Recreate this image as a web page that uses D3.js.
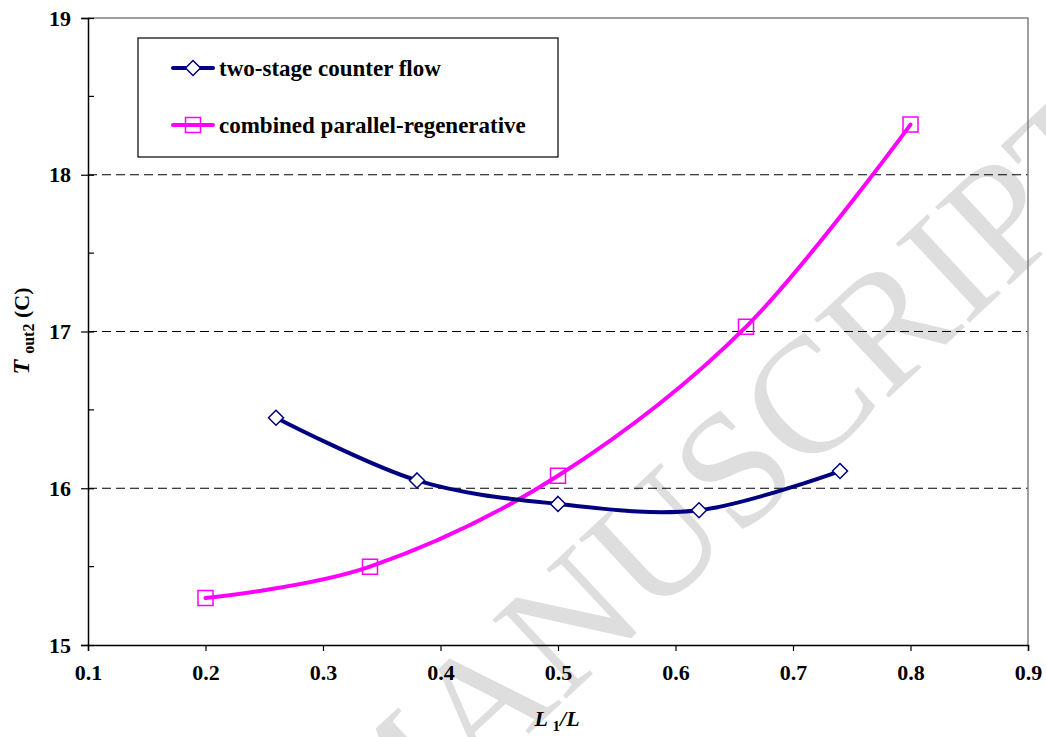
<!DOCTYPE html>
<html>
<meta charset="utf-8" />
<style>
	html, body, svg { margin: 0; padding: 0; background: #fff; }
</style>
<svg width="1046" height="737"></svg>
<script src="https://d3js.org/d3.v7.min.js"></script>
<script>
	var xTicks = [0.1, 0.2, 0.3, 0.4, 0.5, 0.6, 0.7, 0.8, 0.9];
	var yTicks = [15, 16, 17, 18, 19];
	var yMinor = [15.5, 16.5, 17.5, 18.5];

	var counterX = [0.26, 0.38, 0.5, 0.62, 0.74];
	var counterY = [16.45, 16.05, 15.9, 15.86, 16.11];
	var combinedX = [0.2, 0.34, 0.5, 0.66, 0.8];
	var combinedY = [15.3, 15.5, 16.08, 17.03, 18.32];

	var seriesNames = ["two-stage counter flow", "combined parallel-regenerative"];

	var FONT = "Liberation Serif";
	var svg = d3.select("svg");
	var margin = { left: 88, top: 18, right: 18, bottom: 92 };
	var W = 1046, H = 737;

	var x = d3.scaleLinear().domain([0.1, 0.9]).range([margin.left, W - margin.right]);
	var y = d3.scaleLinear().domain([15, 19]).range([H - margin.bottom, margin.top]);

	function txt(sel, size, weight, style) {
		return sel.attr("font-family", FONT).attr("font-size", size)
			.attr("font-weight", weight || "bold").attr("font-style", style || "normal");
	}

	// watermark behind everything
	txt(svg.append("text"), 165, "normal")
		.attr("transform", "translate(1146,158) rotate(-43)")
		.attr("text-anchor", "end")
		.attr("fill", "#dedede")
		.text("ACCEPTED MANUSCRIPT");

	// gridlines
	svg.append("g").selectAll("line")
		.data(yTicks.filter(function (d) { return d > 15 && d < 19; }))
		.enter().append("line")
		.attr("x1", x(0.1)).attr("x2", x(0.9))
		.attr("y1", function (d) { return y(d); })
		.attr("y2", function (d) { return y(d); })
		.attr("stroke", "#000")
		.attr("stroke-dasharray", "9,5");

	// top/right frame
	svg.append("path")
		.attr("d", "M" + x(0.1) + "," + y(19) + "H" + x(0.9) + "V" + y(15))
		.attr("fill", "none")
		.attr("stroke", "#808080")
		.attr("stroke-width", 1.5);

	// axes
	var xAxis = svg.append("g")
		.attr("transform", "translate(0," + y(15) + ")")
		.call(d3.axisBottom(x).tickValues(xTicks).tickSize(6).tickPadding(13).tickFormat(d3.format(".1f")));
	var yAxis = svg.append("g")
		.attr("transform", "translate(" + x(0.1) + ",0)")
		.call(d3.axisLeft(y).tickValues(yTicks).tickSize(7).tickPadding(10).tickFormat(d3.format("d")));
	[xAxis, yAxis].forEach(function (a) {
		a.select(".domain").attr("stroke", "#000").attr("stroke-width", 1.5);
		a.selectAll(".tick line").attr("stroke", "#000").attr("stroke-width", 1.2);
		txt(a.selectAll(".tick text"), 22).attr("fill", "#000");
	});
	// major y ticks cross the axis
	yAxis.selectAll(".tick line").attr("x1", 6);
	// minor y ticks inside
	svg.append("g").selectAll("line")
		.data(yMinor).enter().append("line")
		.attr("x1", x(0.1)).attr("x2", x(0.1) + 6)
		.attr("y1", function (d) { return y(d); })
		.attr("y2", function (d) { return y(d); })
		.attr("stroke", "#000").attr("stroke-width", 1.2);

	// lines
	var line = d3.line()
		.x(function (d) { return x(d[0]); })
		.y(function (d) { return y(d[1]); })
		.curve(d3.curveCatmullRom.alpha(0));

	var counter = d3.zip(counterX, counterY);
	var combined = d3.zip(combinedX, combinedY);

	svg.append("path").datum(combined)
		.attr("d", line).attr("fill", "none")
		.attr("stroke", "#ff00ff").attr("stroke-width", 4).attr("stroke-linecap", "round");
	svg.append("path").datum(counter)
		.attr("d", line).attr("fill", "none")
		.attr("stroke", "#000080").attr("stroke-width", 4).attr("stroke-linecap", "round");

	var diamond = "M0,-7.5L7.5,0L0,7.5L-7.5,0Z";
	var square = "M-7.5,-7.5H7.5V7.5H-7.5Z";

	svg.append("g").selectAll("path").data(counter).enter().append("path")
		.attr("transform", function (d) { return "translate(" + x(d[0]) + "," + y(d[1]) + ")"; })
		.attr("d", diamond).attr("fill", "#fff").attr("stroke", "#000080").attr("stroke-width", 1.5);
	svg.append("g").selectAll("path").data(combined).enter().append("path")
		.attr("transform", function (d) { return "translate(" + x(d[0]) + "," + y(d[1]) + ")"; })
		.attr("d", square).attr("fill", "none").attr("stroke", "#ff00ff").attr("stroke-width", 1.5);

	// legend
	var lg = svg.append("g");
	lg.append("rect").attr("x", 138).attr("y", 38).attr("width", 420).attr("height", 119)
		.attr("fill", "#fff").attr("stroke", "#000").attr("stroke-width", 1.2);
	var items = [
		{ name: seriesNames[0], color: "#000080", shape: diamond, fill: "#fff" },
		{ name: seriesNames[1], color: "#ff00ff", shape: square, fill: "none" }
	];
	items.forEach(function (it, i) {
		var cy = 68 + i * 57;
		lg.append("line").attr("x1", 173).attr("x2", 213).attr("y1", cy).attr("y2", cy)
			.attr("stroke", it.color).attr("stroke-width", 4).attr("stroke-linecap", "round");
		lg.append("path").attr("transform", "translate(193," + cy + ")").attr("d", it.shape)
			.attr("fill", it.fill).attr("stroke", it.color).attr("stroke-width", 1.5);
		txt(lg.append("text"), 23).attr("x", 219).attr("y", cy + 8).text(it.name);
	});

	// axis titles
	var xt = txt(svg.append("text"), 22).attr("x", 557).attr("y", 726).attr("text-anchor", "middle");
	txt(xt.append("tspan"), 22, "bold", "italic").text("L ");
	txt(xt.append("tspan"), 15).attr("dy", 5).text("1");
	txt(xt.append("tspan"), 22, "bold", "italic").attr("dy", -5).text("/L");

	var yt = txt(svg.append("text"), 22).attr("transform", "translate(29,331) rotate(-90)").attr("text-anchor", "middle");
	txt(yt.append("tspan"), 24, "bold", "italic").text("T ");
	txt(yt.append("tspan"), 16).attr("dy", 5).text("out2");
	txt(yt.append("tspan"), 22).attr("dy", -5).text(" (C)");
</script>
</html>
